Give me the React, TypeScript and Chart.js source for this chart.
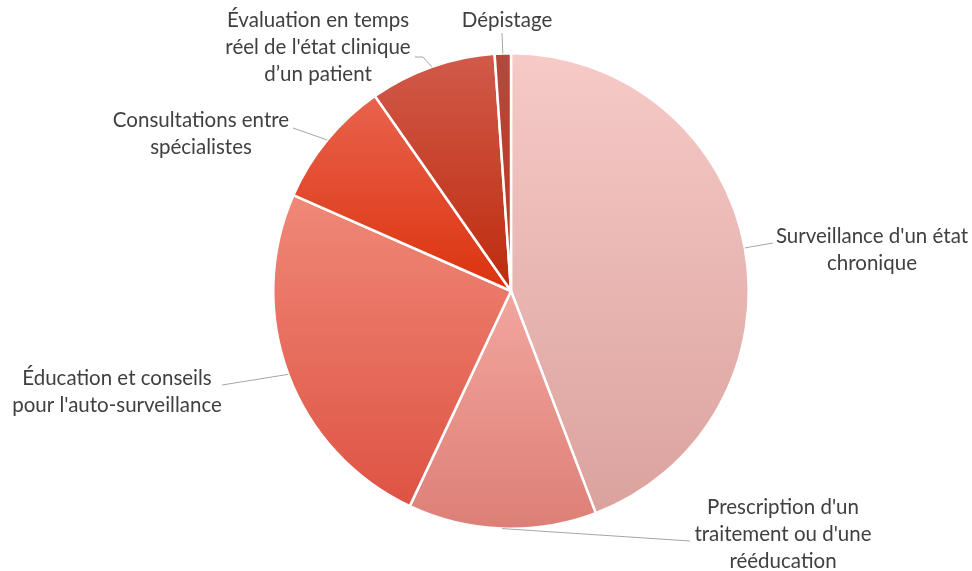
import React, { useEffect, useRef } from "react";
import { Chart, registerables } from "chart.js";

Chart.register(...registerables);

const categories = [
  "Surveillance d'un état chronique",
  "Prescription d'un traitement ou d'une rééducation",
  "Éducation et conseils pour l'auto-surveillance",
  "Consultations entre spécialistes",
  "Évaluation en temps réel de l'état clinique d’un patient",
  "Dépistage",
];
const values = [44.2, 12.8, 24.6, 8.7, 8.6, 1.1];
const labelLines = [
  ["Surveillance d'un état", "chronique"],
  ["Prescription d'un", "traitement ou d'une", "rééducation"],
  ["Éducation et conseils", "pour l'auto-surveillance"],
  ["Consultations entre", "spécialistes"],
  ["Évaluation en temps", "réel de l'état clinique", "d’un patient"],
  ["Dépistage"],
];
// per-slice gradient colours: [colour at slice top, colour at slice bottom]
const topColors = ["#F6CAC7", "#F2A69E", "#F08878", "#E8634D", "#D15A4A", "#B24A3E"];
const bottomColors = ["#DBA29D", "#DD7F77", "#DE5343", "#DC320E", "#BD2B0D", "#BE3418"];

// label layout: text centre x, first-line centre y, leader end point, optional elbow
const labelPos = [
  { x: 872, y: 236, ex: 773, ey: 243 },
  { x: 783, y: 507, ex: 690, ey: 541 },
  { x: 117, y: 378, ex: 222, ey: 385 },
  { x: 201, y: 120, ex: 293, ey: 128 },
  { x: 318, y: 20, ex: 415, ey: 57, bx: 423, by: 57 },
  { x: 507, y: 20, ex: 502, ey: 33 },
];
const LINE_H = 27;

const gradientPlugin = {
  id: "sliceGradients",
  beforeDatasetsDraw(chart: any) {
    const meta = chart.getDatasetMeta(0);
    const ctx = chart.ctx;
    meta.data.forEach((arc: any, i: number) => {
      const p = arc.getProps(["x", "y", "startAngle", "endAngle", "outerRadius"], true);
      let minY = p.y;
      let maxY = p.y;
      const steps = 60;
      for (let s = 0; s <= steps; s++) {
        const a = p.startAngle + ((p.endAngle - p.startAngle) * s) / steps;
        const yy = p.y + Math.sin(a) * p.outerRadius;
        minY = Math.min(minY, yy);
        maxY = Math.max(maxY, yy);
      }
      const g = ctx.createLinearGradient(0, minY, 0, maxY);
      g.addColorStop(0, topColors[i]);
      g.addColorStop(1, bottomColors[i]);
      arc.options.backgroundColor = g;
    });
  },
};

const labelPlugin = {
  id: "leaderLabels",
  afterDraw(chart: any) {
    const ctx = chart.ctx;
    const meta = chart.getDatasetMeta(0);
    ctx.save();
    meta.data.forEach((arc: any, i: number) => {
      const p = arc.getProps(["x", "y", "startAngle", "endAngle", "outerRadius"], true);
      const mid = (p.startAngle + p.endAngle) / 2;
      const ax = p.x + Math.cos(mid) * p.outerRadius;
      const ay = p.y + Math.sin(mid) * p.outerRadius;
      const lp = labelPos[i];
      ctx.strokeStyle = "#A6A6A6";
      ctx.lineWidth = 1;
      ctx.beginPath();
      ctx.moveTo(ax, ay);
      if (lp.bx !== undefined) ctx.lineTo(lp.bx, lp.by);
      ctx.lineTo(lp.ex, lp.ey);
      ctx.stroke();
      ctx.fillStyle = "#404040";
      ctx.font = "20.5px Lato, 'Open Sans', sans-serif";
      ctx.textAlign = "center";
      ctx.textBaseline = "middle";
      labelLines[i].forEach((t, k) => {
        ctx.fillText(t, lp.x, lp.y + k * LINE_H);
      });
    });
    ctx.restore();
  },
};

export default function App() {
  const ref = useRef<HTMLCanvasElement>(null);
  useEffect(() => {
    document.body.style.margin = "0";
    const chart = new Chart(ref.current!, {
      type: "pie",
      data: {
        labels: categories,
        datasets: [
          {
            data: values,
            borderColor: "#FFFFFF",
            borderWidth: 2.5,
            backgroundColor: topColors,
          },
        ],
      },
      options: {
        responsive: false,
        animation: false,
        layout: { padding: { top: 52, bottom: 41, left: 272, right: 222 } },
        plugins: { legend: { display: false }, tooltip: { enabled: false } },
      },
      plugins: [gradientPlugin, labelPlugin],
    });
    return () => chart.destroy();
  }, []);
  return (
    <div style={{ width: 972, height: 571, background: "#fff" }}>
      <canvas ref={ref} width={972} height={571} />
    </div>
  );
}
